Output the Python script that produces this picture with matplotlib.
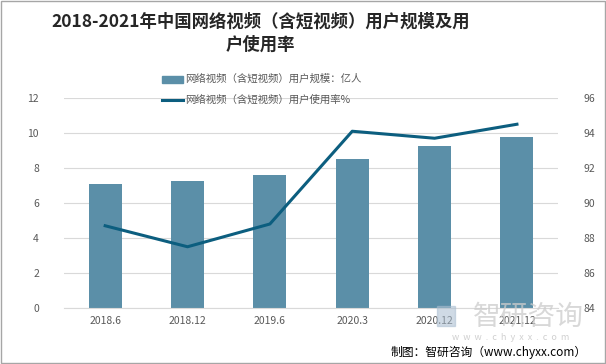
import matplotlib.pyplot as plt
from matplotlib.patches import Rectangle

plt.rcParams['font.family'] = ['Noto Sans CJK SC', 'DejaVu Sans']

# --------- data --------------
periods = ['2018.6', '2018.12', '2019.6', '2020.3', '2020.12', '2021.12']
users = [7.10, 7.25, 7.59, 8.50, 9.27, 9.75]      # 亿人
usage_rate = [88.7, 87.5, 88.8, 94.1, 93.7, 94.5]  # %
bar_label = '网络视频（含短视频）用户规模：亿人'
line_label = '网络视频（含短视频）用户使用率%'
title = '2018-2021年中国网络视频（含短视频）用户规模及用\n户使用率'
# -----------------------------

bar_color = '#5b8fa8'
line_color = '#0c5e7f'
grey = '#595959'

fig = plt.figure(figsize=(6.06, 3.64), dpi=100)
ax = fig.add_axes([0.1056, 0.1538, 0.8154, 0.577])
ax2 = ax.twinx()

x = range(len(periods))
ax.bar(x, users, width=0.4, color=bar_color, zorder=2)
ax2.plot(x, usage_rate, color=line_color, lw=2.2, zorder=3)

ax.set_xlim(-0.5, len(periods) - 0.5)
ax.set_ylim(0, 12)
ax.set_yticks(range(0, 13, 2))
ax2.set_ylim(84, 96)
ax2.set_yticks(range(84, 97, 2))
ax.set_xticks(list(x))
ax.set_xticklabels(periods)

ax.grid(axis='y', color='#d9d9d9', lw=0.8, zorder=0)
for a in (ax, ax2):
    for s in a.spines.values():
        s.set_visible(False)
    a.tick_params(length=0, labelsize=7.5, labelcolor=grey)
ax.spines['bottom'].set_visible(True)
ax.spines['bottom'].set_color('#d9d9d9')
ax.tick_params(axis='y', pad=18)
ax2.tick_params(axis='y', pad=18)
ax.tick_params(axis='x', pad=6)

fig.text(0.43, 0.965, title, ha='center', va='top', fontsize=12.5,
         fontweight='bold', color='#262626', linespacing=1.35)

# legend drawn by hand to keep the stacked layout
fig.patches.append(Rectangle((162 / 606, 1 - 83 / 364), 21 / 606, 7 / 364,
                             transform=fig.transFigure, color=bar_color))
fig.lines.append(plt.Line2D([162 / 606, 183 / 606], [1 - 100 / 364] * 2,
                            transform=fig.transFigure, color=line_color, lw=2.2))
fig.text(185 / 606, 1 - 79 / 364, bar_label, fontsize=7.5, color=grey,
         va='center')
fig.text(185 / 606, 1 - 100 / 364, line_label, fontsize=7.5, color=grey,
         va='center')

# watermark
fig.text(528 / 606, 1 - 317 / 364, '智研咨询', fontsize=20, color='#cccccc',
         ha='center', va='center', alpha=0.75, zorder=5)
fig.patches.append(Rectangle((437 / 606, 1 - 326 / 364), 18 / 606, 20 / 364,
                             transform=fig.transFigure, color='#a9bdd0',
                             alpha=0.55, zorder=5))
fig.text(511 / 606, 1 - 338 / 364, 'w  w  w  .  c  h  y  x  x  .  c  o  m',
         fontsize=6.5, color='#d0d0d0', ha='center', va='center')
fig.text(587 / 606, 1 - 352 / 364, '制图：智研咨询（www.chyxx.com）',
         fontsize=8.5, color='black', ha='right', va='center')

fig.patches.append(Rectangle((0.001, 0.002), 0.997, 0.995,
                             transform=fig.transFigure, fill=False,
                             ec='#a6a6a6', lw=1))

fig.savefig('out.png', dpi=100)
